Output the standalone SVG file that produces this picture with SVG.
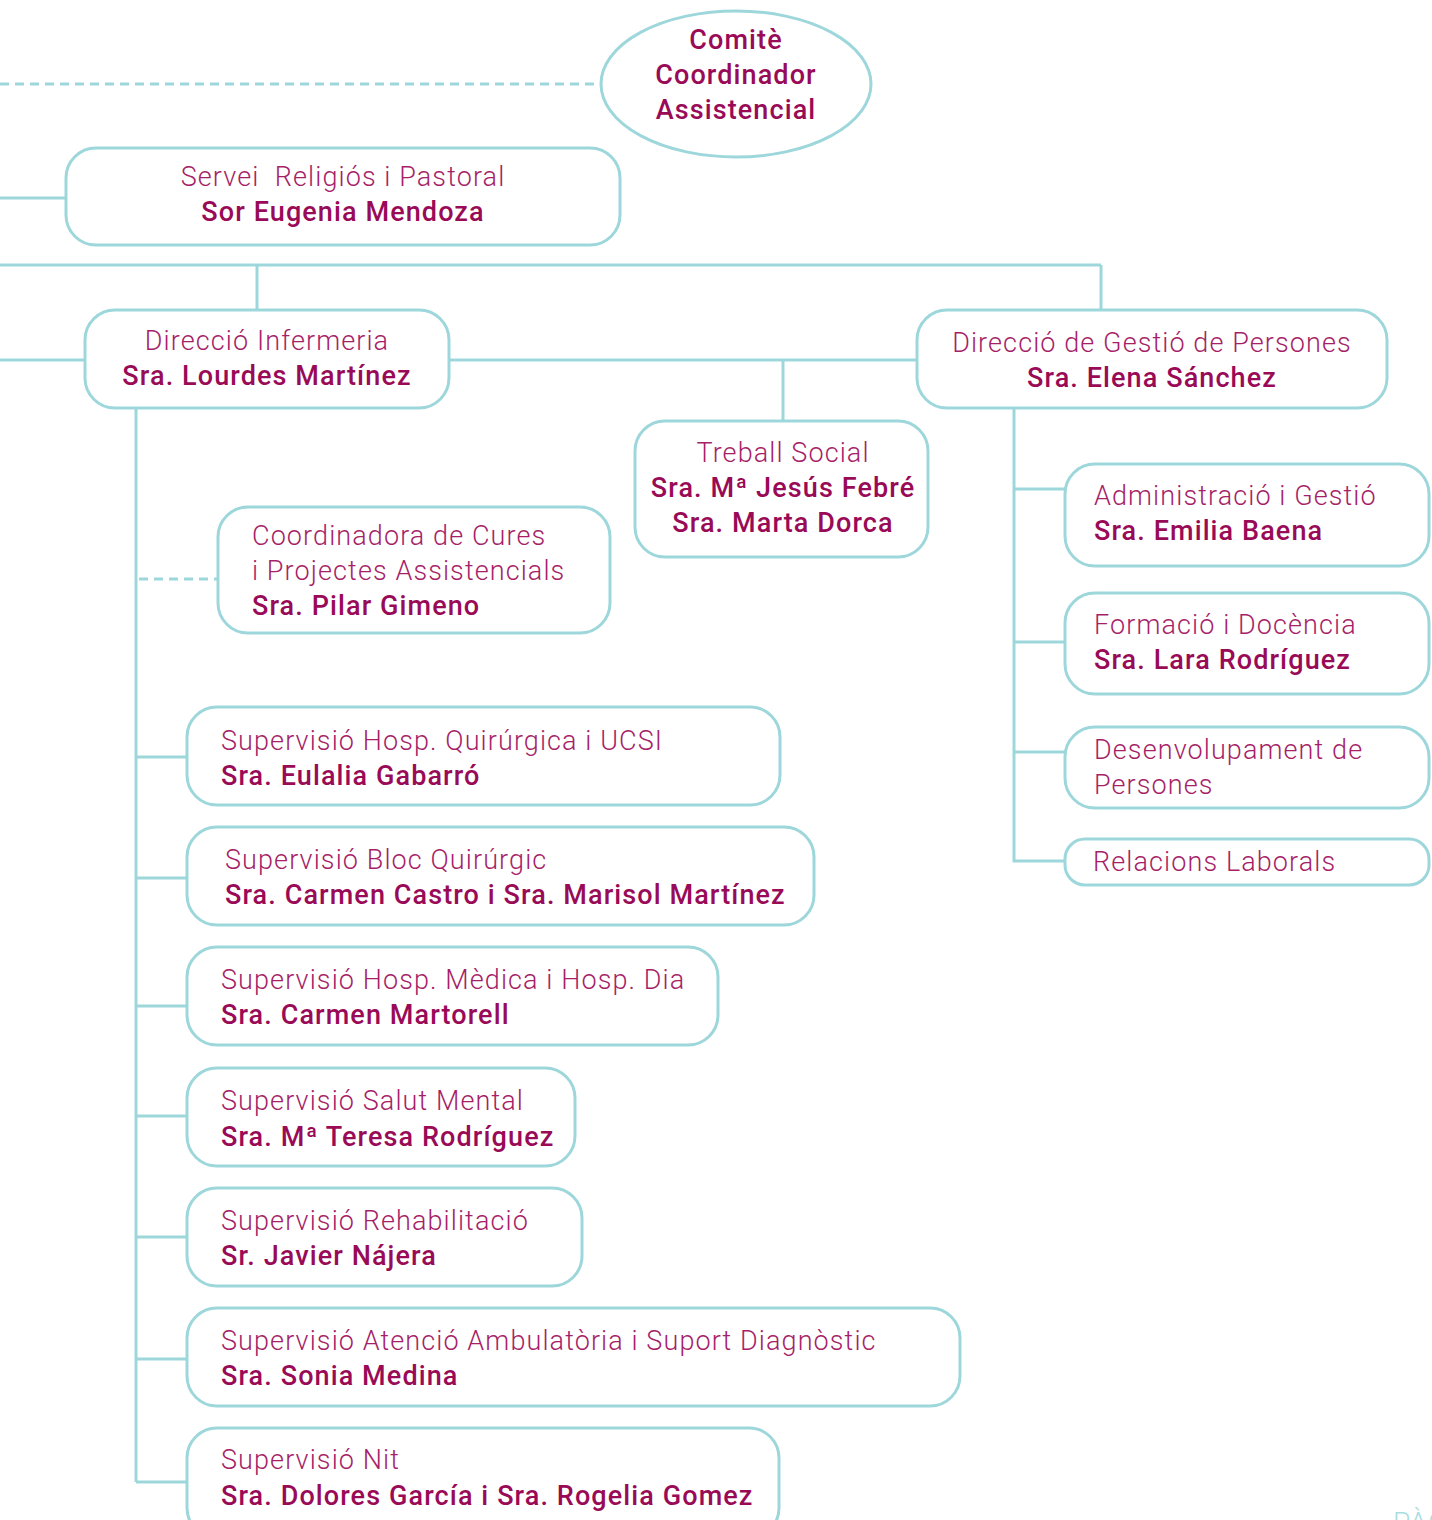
<svg xmlns="http://www.w3.org/2000/svg" width="1432" height="1520" viewBox="0 0 1432 1520">
<style>
.box{fill:#fff;stroke:#9dd7db;stroke-width:3}
.ln{stroke:#9dd7db;stroke-width:3;fill:none}
.dash{stroke:#9dd7db;stroke-width:3;fill:none;stroke-dasharray:9 6}
text{font-family:Roboto,"Liberation Sans",sans-serif;font-size:27px;letter-spacing:1.1px}
.r{fill:#a61f68;font-weight:300}
.b{fill:#990a57;font-weight:500}
.c{text-anchor:middle}
.pg{fill:#a9dde0;font-weight:300;font-size:28px}
</style>
<rect width="1432" height="1520" fill="#fff"/>
<g id="connectors">
<line class="dash" x1="0" y1="84" x2="600" y2="84"/>
<line class="ln" x1="0" y1="198" x2="66" y2="198"/>
<line class="ln" x1="0" y1="265" x2="1101" y2="265"/>
<line class="ln" x1="257" y1="265" x2="257" y2="310"/>
<line class="ln" x1="1101" y1="265" x2="1101" y2="310"/>
<line class="ln" x1="0" y1="360" x2="85" y2="360"/>
<line class="ln" x1="449" y1="360" x2="917" y2="360"/>
<line class="ln" x1="783" y1="360" x2="783" y2="421"/>
<line class="ln" x1="136" y1="408" x2="136" y2="1482"/>
<line class="dash" x1="139" y1="579" x2="218" y2="579"/>
<line class="ln" x1="136" y1="757" x2="187" y2="757"/>
<line class="ln" x1="136" y1="878" x2="187" y2="878"/>
<line class="ln" x1="136" y1="1006" x2="187" y2="1006"/>
<line class="ln" x1="136" y1="1116" x2="187" y2="1116"/>
<line class="ln" x1="136" y1="1237" x2="187" y2="1237"/>
<line class="ln" x1="136" y1="1359" x2="187" y2="1359"/>
<line class="ln" x1="136" y1="1482" x2="187" y2="1482"/>
<polyline class="ln" points="1014,408 1014,861 1065,861"/>
<line class="ln" x1="1014" y1="489" x2="1065" y2="489"/>
<line class="ln" x1="1014" y1="642" x2="1065" y2="642"/>
<line class="ln" x1="1014" y1="752" x2="1065" y2="752"/>
</g>
<g id="comite">
<ellipse class="box" cx="736" cy="84" rx="135" ry="73"/>
<text class="b c" x="736" y="49">Comitè</text>
<text class="b c" x="736" y="84">Coordinador</text>
<text class="b c" x="736" y="119">Assistencial</text>
</g>
<g id="servei">
<rect class="box" x="66" y="148" width="554" height="97" rx="30"/>
<text class="r c" x="343" y="186" xml:space="preserve">Servei  Religiós i Pastoral</text>
<text class="b c" x="343" y="221">Sor Eugenia Mendoza</text>
</g>
<g id="infermeria">
<rect class="box" x="85" y="310" width="364" height="98" rx="30"/>
<text class="r c" x="267" y="350">Direcció Infermeria</text>
<text class="b c" x="267" y="385">Sra. Lourdes Martínez</text>
</g>
<g id="persones">
<rect class="box" x="917" y="310" width="470" height="98" rx="30"/>
<text class="r c" x="1152" y="352">Direcció de Gestió de Persones</text>
<text class="b c" x="1152" y="387">Sra. Elena Sánchez</text>
</g>
<g id="treball">
<rect class="box" x="635" y="421" width="293" height="136" rx="30"/>
<text class="r c" x="783" y="462">Treball Social</text>
<text class="b c" x="783" y="497">Sra. Mª Jesús Febré</text>
<text class="b c" x="783" y="532">Sra. Marta Dorca</text>
</g>
<g id="coordinadora">
<rect class="box" x="218" y="507" width="392" height="126" rx="30"/>
<text class="r" x="252" y="545">Coordinadora de Cures</text>
<text class="r" x="252" y="580">i Projectes Assistencials</text>
<text class="b" x="252" y="615">Sra. Pilar Gimeno</text>
</g>
<g id="sup1">
<rect class="box" x="187" y="707" width="593" height="98" rx="30"/>
<text class="r" x="221" y="750">Supervisió Hosp. Quirúrgica i UCSI</text>
<text class="b" x="221" y="785">Sra. Eulalia Gabarró</text>
</g>
<g id="sup2">
<rect class="box" x="187" y="827" width="627" height="98" rx="30"/>
<text class="r" x="225" y="869">Supervisió Bloc Quirúrgic</text>
<text class="b" x="225" y="904">Sra. Carmen Castro i Sra. Marisol Martínez</text>
</g>
<g id="sup3">
<rect class="box" x="187" y="947" width="531" height="98" rx="30"/>
<text class="r" x="221" y="989">Supervisió Hosp. Mèdica i Hosp. Dia</text>
<text class="b" x="221" y="1024">Sra. Carmen Martorell</text>
</g>
<g id="sup4">
<rect class="box" x="187" y="1068" width="388" height="98" rx="30"/>
<text class="r" x="221" y="1110">Supervisió Salut Mental</text>
<text class="b" x="221" y="1146">Sra. Mª Teresa Rodríguez</text>
</g>
<g id="sup5">
<rect class="box" x="187" y="1188" width="395" height="98" rx="30"/>
<text class="r" x="221" y="1230">Supervisió Rehabilitació</text>
<text class="b" x="221" y="1265">Sr. Javier Nájera</text>
</g>
<g id="sup6">
<rect class="box" x="187" y="1308" width="773" height="98" rx="30"/>
<text class="r" x="221" y="1350">Supervisió Atenció Ambulatòria i Suport Diagnòstic</text>
<text class="b" x="221" y="1385">Sra. Sonia Medina</text>
</g>
<g id="sup7">
<rect class="box" x="187" y="1428" width="592" height="110" rx="30"/>
<text class="r" x="221" y="1469">Supervisió Nit</text>
<text class="b" x="221" y="1505">Sra. Dolores García i Sra. Rogelia Gomez</text>
</g>
<g id="admin">
<rect class="box" x="1065" y="464" width="364" height="102" rx="30"/>
<text class="r" x="1094" y="505">Administració i Gestió</text>
<text class="b" x="1094" y="540">Sra. Emilia Baena</text>
</g>
<g id="formacio">
<rect class="box" x="1065" y="593" width="364" height="101" rx="30"/>
<text class="r" x="1094" y="634">Formació i Docència</text>
<text class="b" x="1094" y="669">Sra. Lara Rodríguez</text>
</g>
<g id="desenvolupament">
<rect class="box" x="1065" y="727" width="364" height="81" rx="30"/>
<text class="r" x="1094" y="759">Desenvolupament de</text>
<text class="r" x="1094" y="794">Persones</text>
</g>
<g id="relacions">
<rect class="box" x="1065" y="839" width="364" height="46" rx="20"/>
<text class="r" x="1093" y="871">Relacions Laborals</text>
</g>
<text class="pg" x="1393" y="1532">PÀG</text>
</svg>
